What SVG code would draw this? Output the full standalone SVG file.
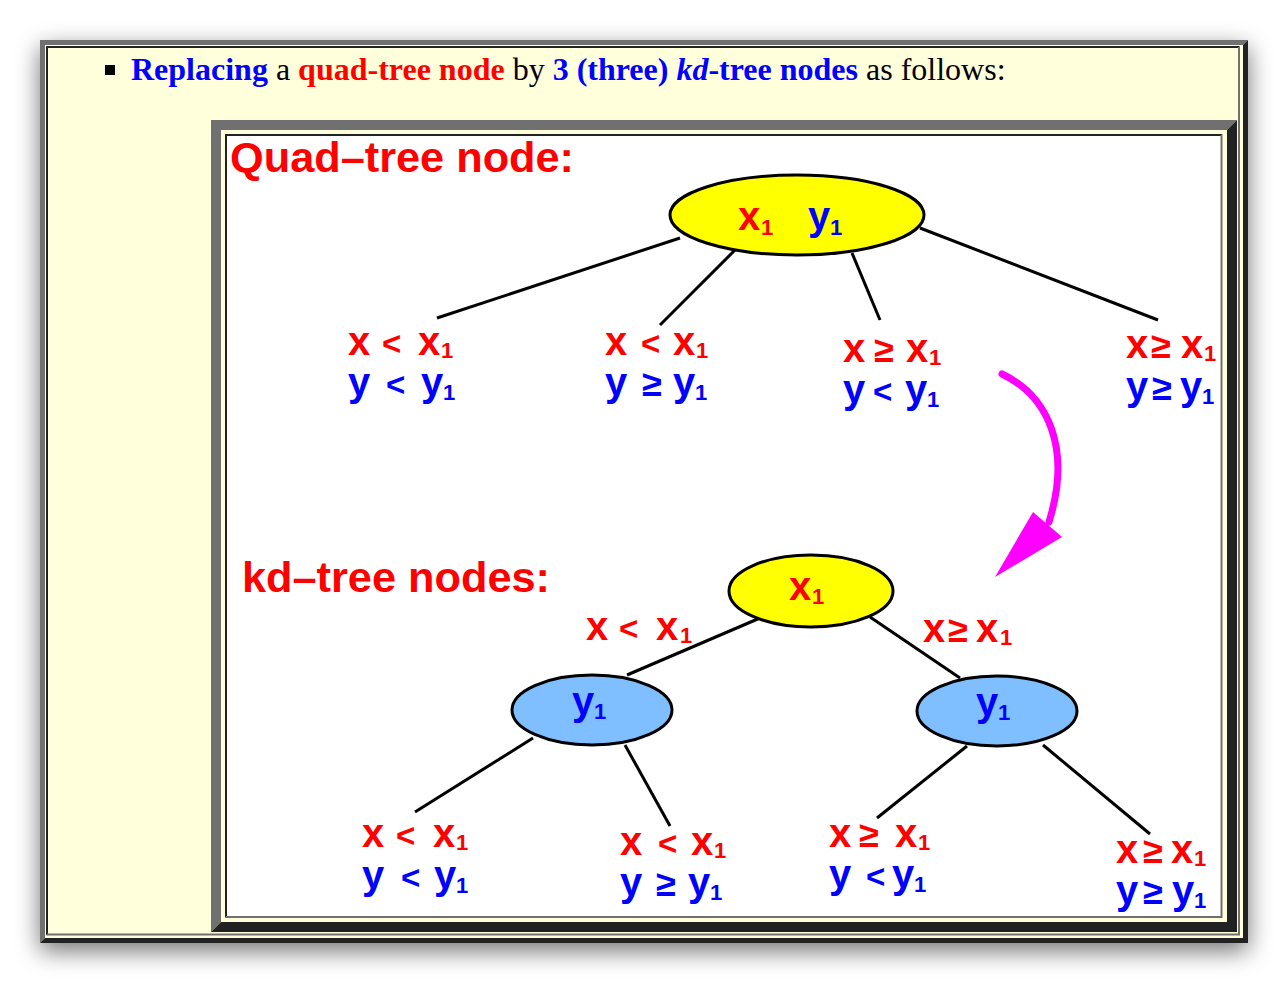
<svg xmlns="http://www.w3.org/2000/svg" width="1288" height="984" viewBox="0 0 1288 984">
<defs>
<filter id="sh" x="-10%" y="-10%" width="120%" height="125%"><feGaussianBlur stdDeviation="12"/></filter>
<style>
.t{font-family:"Liberation Sans",Arial,sans-serif;font-weight:bold;font-size:40px}
.s{font-size:22px}
.lt{font-size:33px}
.ge{font-size:36px}
.r{fill:#ff0000}
.b{fill:#0000ff}
.hd{font-family:"Liberation Sans",Arial,sans-serif;font-weight:bold;font-size:43.3px;fill:#ff0000}
.ln{stroke:#000;stroke-width:3;fill:none}
.yel{fill:#ffff00;stroke:#000;stroke-width:3}
.blu{fill:#7fbfff;stroke:#000;stroke-width:3}
.hb{font-weight:bold}
</style>
</defs>
<rect width="1288" height="984" fill="#ffffff"/>
<rect x="40" y="48" width="1208" height="903" fill="#000" opacity="0.55" filter="url(#sh)"/>
<!-- outer frame -->
<rect x="40" y="40" width="1208" height="903" fill="#ffffdc"/>
<polygon points="40,40 1248,40 1243,45 45,45 45,938 40,943" fill="#707070"/>
<polygon points="1248,40 1248,943 40,943 45,938 1243,938 1243,45" fill="#222"/>
<polygon points="46,46 1240,46 1238,48 48,48 48,933.5 46,935.5" fill="#222"/>
<polygon points="1240,46 1240,935.5 46,935.5 48,933.5 1238,933.5 1238,48" fill="#707070"/>
<!-- heading -->
<rect x="105" y="65" width="10" height="10" fill="#000"/>
<text x="131" y="80" font-family="'Liberation Serif','Times New Roman',serif" font-size="32" fill="#000"><tspan class="hb" fill="#0000ff">Replacing</tspan> a <tspan class="hb" fill="#ff0000">quad-tree node</tspan> by <tspan class="hb" fill="#0000ff">3 (three) <tspan font-style="italic">kd</tspan>-tree nodes</tspan> as follows:</text>
<!-- image frame -->
<rect x="211" y="120" width="1026" height="812" fill="#ffffdc"/>
<polygon points="211,120 1237,120 1227,130 221,130 221,922 211,932" fill="#707070"/>
<polygon points="1237,120 1237,932 211,932 221,922 1227,922 1227,130" fill="#222"/>
<rect x="227" y="136" width="994" height="780" fill="#ffffff"/>
<polygon points="225,134 1222.5,134 1220.5,136 227,136 227,916 225,918" fill="#222"/>
<polygon points="1222.5,134 1222.5,918 225,918 227,916 1220.5,916 1220.5,136" fill="#707070"/>
<text class="hd" x="230" y="172">Quad–tree node:</text>
<text class="hd" x="242" y="592">kd–tree nodes:</text>
<!-- connectors -->
<g id="connectors">
<line class="ln" x1="680" y1="238" x2="437" y2="318"/>
<line class="ln" x1="735" y1="250" x2="660" y2="325"/>
<line class="ln" x1="852" y1="253" x2="880" y2="320"/>
<line class="ln" x1="920" y1="228" x2="1158" y2="320"/>
<line class="ln" x1="760" y1="618" x2="627" y2="675"/>
<line class="ln" x1="870" y1="617" x2="960" y2="678"/>
<line class="ln" x1="533" y1="738" x2="415" y2="812"/>
<line class="ln" x1="625" y1="745" x2="670" y2="826"/>
<line class="ln" x1="967" y1="746" x2="877" y2="818"/>
<line class="ln" x1="1043" y1="745" x2="1150" y2="834"/>
<path d="M1002,374 C1048,396 1072,448 1049,522" stroke="#ff00ff" stroke-width="7" fill="none" stroke-linecap="round"/>
<polygon points="1033,512 1062,537 995,577" fill="#ff00ff"/>
</g>
<!-- quad root -->
<g id="quad-root">
<ellipse class="yel" cx="797" cy="215" rx="127" ry="40"/>
<text class="t"><tspan class="r" x="738" y="230">x</tspan><tspan class="r s" x="761" y="235">1</tspan><tspan class="b" x="808" y="230">y</tspan><tspan class="b s" x="830" y="235">1</tspan></text>
</g>
<g id="quad-c1">
<text class="t r"><tspan x="348" y="355">x</tspan><tspan class="lt" x="382" y="355">&lt;</tspan><tspan x="418" y="355">x</tspan><tspan class="s" x="441" y="358">1</tspan></text>
<text class="t b"><tspan x="348" y="396">y</tspan><tspan class="lt" x="386" y="396">&lt;</tspan><tspan x="421" y="396">y</tspan><tspan class="s" x="443" y="400">1</tspan></text>
</g>
<g id="quad-c2">
<text class="t r"><tspan x="605" y="355">x</tspan><tspan class="lt" x="641" y="355">&lt;</tspan><tspan x="673" y="355">x</tspan><tspan class="s" x="696" y="358">1</tspan></text>
<text class="t b"><tspan x="605" y="396">y</tspan><tspan class="ge" x="642" y="396">≥</tspan><tspan x="673" y="396">y</tspan><tspan class="s" x="695" y="400">1</tspan></text>
</g>
<g id="quad-c3">
<text class="t r"><tspan x="843" y="362">x</tspan><tspan class="ge" x="874" y="362">≥</tspan><tspan x="906" y="362">x</tspan><tspan class="s" x="929" y="365">1</tspan></text>
<text class="t b"><tspan x="843" y="403">y</tspan><tspan class="lt" x="873" y="403">&lt;</tspan><tspan x="905" y="403">y</tspan><tspan class="s" x="927" y="407">1</tspan></text>
</g>
<g id="quad-c4">
<text class="t r"><tspan x="1126" y="358">x</tspan><tspan class="ge" x="1151" y="358">≥</tspan><tspan x="1181" y="358">x</tspan><tspan class="s" x="1204" y="361">1</tspan></text>
<text class="t b"><tspan x="1126" y="400">y</tspan><tspan class="ge" x="1152" y="400">≥</tspan><tspan x="1180" y="400">y</tspan><tspan class="s" x="1202" y="404">1</tspan></text>
</g>
<!-- kd tree -->
<g id="kd-root">
<ellipse class="yel" cx="811" cy="591" rx="82" ry="36"/>
<text class="t r"><tspan x="789" y="600">x</tspan><tspan class="s" x="812" y="604">1</tspan></text>
</g>
<g id="kd-edge-left">
<text class="t r"><tspan x="586" y="640">x</tspan><tspan class="lt" x="619" y="640">&lt;</tspan><tspan x="656" y="640">x</tspan><tspan class="s" x="680" y="643">1</tspan></text>
</g>
<g id="kd-edge-right">
<text class="t r"><tspan x="923" y="642">x</tspan><tspan class="ge" x="948" y="642">≥</tspan><tspan x="976" y="642">x</tspan><tspan class="s" x="1000" y="645">1</tspan></text>
</g>
<g id="kd-left">
<ellipse class="blu" cx="592" cy="710" rx="80" ry="35"/>
<text class="t b"><tspan x="572" y="715">y</tspan><tspan class="s" x="594" y="719">1</tspan></text>
</g>
<g id="kd-right">
<ellipse class="blu" cx="997" cy="711" rx="80" ry="35"/>
<text class="t b"><tspan x="976" y="716">y</tspan><tspan class="s" x="998" y="720">1</tspan></text>
</g>
<g id="kd-ll">
<text class="t r"><tspan x="362" y="847">x</tspan><tspan class="lt" x="396" y="847">&lt;</tspan><tspan x="433" y="847">x</tspan><tspan class="s" x="456" y="850">1</tspan></text>
<text class="t b"><tspan x="362" y="889">y</tspan><tspan class="lt" x="401" y="889">&lt;</tspan><tspan x="434" y="889">y</tspan><tspan class="s" x="456" y="893">1</tspan></text>
</g>
<g id="kd-lr">
<text class="t r"><tspan x="620" y="855">x</tspan><tspan class="lt" x="658" y="855">&lt;</tspan><tspan x="691" y="855">x</tspan><tspan class="s" x="714" y="858">1</tspan></text>
<text class="t b"><tspan x="620" y="896">y</tspan><tspan class="ge" x="656" y="896">≥</tspan><tspan x="688" y="896">y</tspan><tspan class="s" x="710" y="900">1</tspan></text>
</g>
<g id="kd-rl">
<text class="t r"><tspan x="829" y="847">x</tspan><tspan class="ge" x="859" y="847">≥</tspan><tspan x="895" y="847">x</tspan><tspan class="s" x="918" y="850">1</tspan></text>
<text class="t b"><tspan x="829" y="888">y</tspan><tspan class="lt" x="866" y="888">&lt;</tspan><tspan x="892" y="888">y</tspan><tspan class="s" x="914" y="892">1</tspan></text>
</g>
<g id="kd-rr">
<text class="t r"><tspan x="1116" y="863">x</tspan><tspan class="ge" x="1143" y="863">≥</tspan><tspan x="1171" y="863">x</tspan><tspan class="s" x="1194" y="866">1</tspan></text>
<text class="t b"><tspan x="1116" y="904">y</tspan><tspan class="ge" x="1143" y="904">≥</tspan><tspan x="1172" y="904">y</tspan><tspan class="s" x="1194" y="908">1</tspan></text>
</g>
</svg>
